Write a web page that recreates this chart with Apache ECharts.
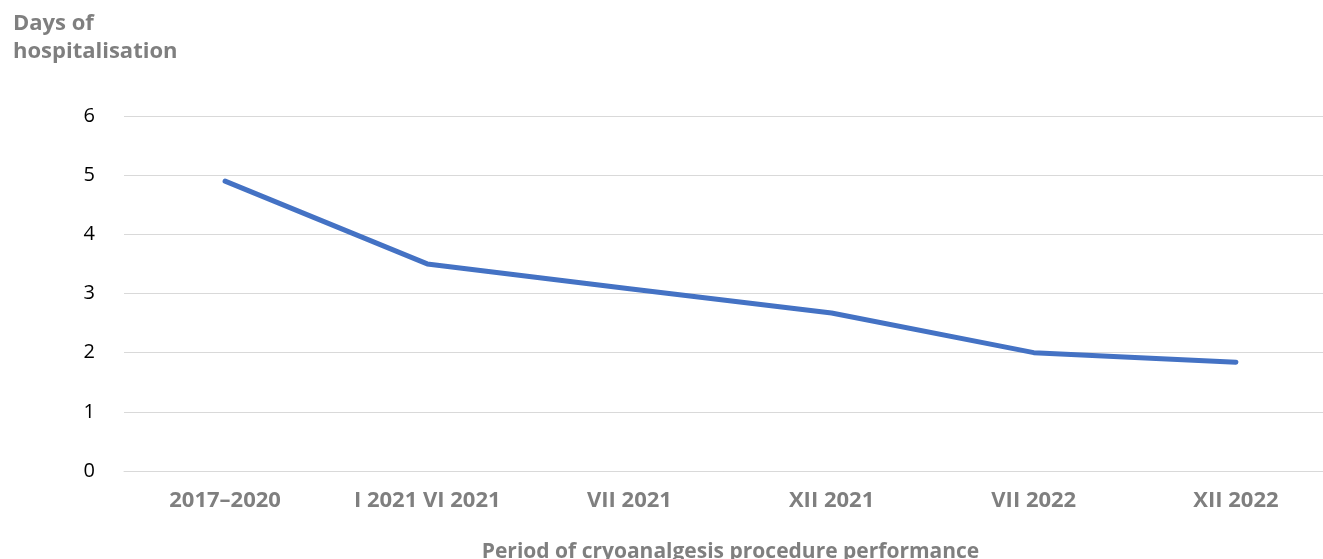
<!DOCTYPE html>
<html>
<head>
<meta charset="utf-8">
<script src="https://cdn.jsdelivr.net/npm/echarts@6/dist/echarts.min.js"></script>
<style>
html,body{margin:0;padding:0;background:#fff;}
#chart{width:1323px;height:559px;}
</style>
</head>
<body>
<div id="chart"></div>
<script>
const categories = ['2017–2020', 'I 2021 VI 2021', 'VII 2021', 'XII 2021', 'VII 2022', 'XII 2022'];
const daysOfHospitalisation = [4.9, 3.5, 3.08, 2.67, 2.0, 1.84];
const yTicks = [0, 1, 2, 3, 4, 5, 6];
const yAxisTitle = 'Days of\nhospitalisation';
const xAxisTitle = 'Period of cryoanalgesis procedure performance';

const gray = '#7f7f7f';
const chart = echarts.init(document.getElementById('chart'), null, {renderer: 'canvas'});
chart.setOption({
  animation: false,
  backgroundColor: '#ffffff',
  title: {
    text: yAxisTitle,
    left: 13,
    top: 10,
    padding: 0,
    textStyle: {fontFamily: 'Open Sans', fontWeight: 700, fontSize: 22, lineHeight: 28, color: gray}
  },
  grid: {left: 124, top: 116, width: 1213, height: 355, containLabel: false, outerBoundsMode: 'none'},
  xAxis: {
    type: 'category', data: categories, boundaryGap: true,
    name: xAxisTitle, nameLocation: 'middle', nameGap: 71,
    nameTextStyle: {fontFamily: 'Open Sans', fontWeight: 700, fontSize: 21, color: gray},
    axisLine: {show: true, lineStyle: {color: '#d9d9d9', width: 1}},
    axisTick: {show: false},
    axisLabel: {margin: 19, fontFamily: 'Open Sans', fontWeight: 700, fontSize: 22, color: gray, interval: 0},
    splitLine: {show: false}
  },
  yAxis: {
    type: 'value', min: yTicks[0], max: yTicks[yTicks.length - 1], interval: 1,
    axisLine: {show: false}, axisTick: {show: false},
    axisLabel: {margin: 29, fontFamily: 'Open Sans', fontSize: 20, color: '#000000'},
    splitLine: {show: true, lineStyle: {color: '#d9d9d9', width: 1}}
  },
  series: [{
    type: 'line', data: daysOfHospitalisation, symbol: 'none', smooth: false,
    lineStyle: {color: '#4472C4', width: 5, cap: 'round', join: 'round'}
  }]
});
</script>
</body>
</html>
